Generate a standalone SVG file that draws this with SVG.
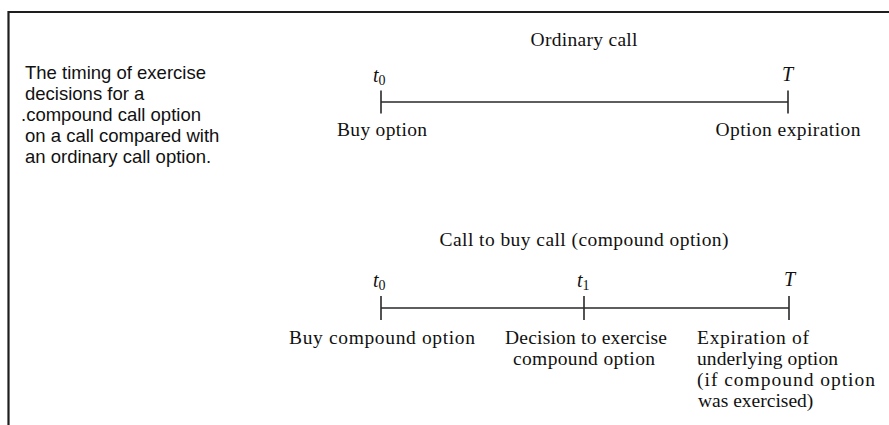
<svg xmlns="http://www.w3.org/2000/svg" width="889" height="425" viewBox="0 0 889 425">
<style>
.cap{font-family:"Liberation Sans",Arial,sans-serif;font-size:18.5px;fill:#111}
.lbl{font-family:"Liberation Serif","Times New Roman",serif;font-size:19.5px;fill:#111}
.it{font-family:"Liberation Serif","Times New Roman",serif;font-size:20px;font-style:italic;fill:#111}
.sub{font-size:14px;font-style:normal}
.ln{stroke:#2a2a2a;stroke-width:1.6;fill:none}
.frame{stroke:#1e1e1e;stroke-width:2.2;fill:none}
</style>
<rect width="889" height="425" fill="#ffffff"/>
<path class="frame" d="M8.5,425 V12 H889"/>
<g id="caption">
<text class="cap" x="25" y="79">The timing of exercise</text>
<text class="cap" x="25" y="100">decisions for a</text>
<text class="cap" x="21" y="121">.compound call option</text>
<text class="cap" x="25" y="142">on a call compared with</text>
<text class="cap" x="25" y="163">an ordinary call option.</text>
</g>
<g id="ordinary">
<text class="lbl" x="584" y="46" text-anchor="middle" textLength="107" lengthAdjust="spacing">Ordinary call</text>
<g id="o-t0">
<text class="it" x="373" y="82">t<tspan class="sub" dy="3">0</tspan></text>
<text class="lbl" x="382" y="136" text-anchor="middle" textLength="90" lengthAdjust="spacing">Buy option</text>
</g>
<g id="o-T">
<text class="it" x="782" y="81">T</text>
<text class="lbl" x="788" y="136" text-anchor="middle" textLength="145" lengthAdjust="spacing">Option expiration</text>
</g>
</g>
<g id="compound">
<text class="lbl" x="584" y="246" text-anchor="middle" textLength="289" lengthAdjust="spacing">Call to buy call (compound option)</text>
<g id="c-t0">
<text class="it" x="373" y="287">t<tspan class="sub" dy="3">0</tspan></text>
<text class="lbl" x="382" y="344" text-anchor="middle" textLength="186" lengthAdjust="spacing">Buy compound option</text>
</g>
<g id="c-t1">
<text class="it" x="577" y="287">t<tspan class="sub" dy="3">1</tspan></text>
<text class="lbl" x="586" y="344" text-anchor="middle" textLength="162" lengthAdjust="spacing">Decision to exercise</text>
<text class="lbl" x="584" y="365" text-anchor="middle" textLength="142" lengthAdjust="spacing">compound option</text>
</g>
<g id="c-T">
<text class="it" x="784" y="286">T</text>
<text class="lbl" x="697" y="344" textLength="112" lengthAdjust="spacing">Expiration of</text>
<text class="lbl" x="697" y="365" textLength="141" lengthAdjust="spacing">underlying option</text>
<text class="lbl" x="697" y="386" textLength="178" lengthAdjust="spacing">(if compound option</text>
<text class="lbl" x="698" y="407">was exercised)</text>
</g>
</g>
<g id="connectors">
<path class="ln" d="M381,102 H788 M381,90.5 V113.5 M788,90.5 V113.5"/>
<path class="ln" d="M381,308 H789 M381,296 V320 M584,296 V320 M789,296 V320"/>
</g>
</svg>
